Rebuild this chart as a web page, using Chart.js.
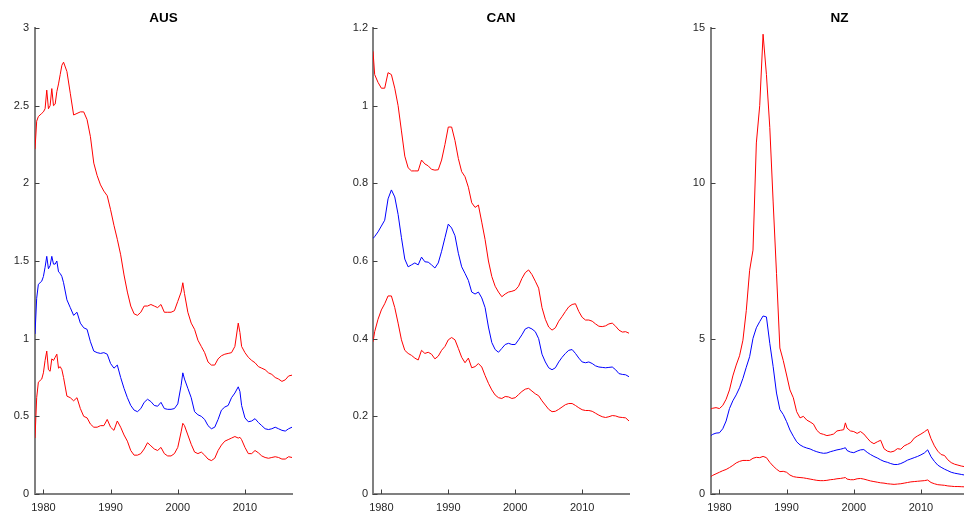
<!DOCTYPE html>
<html>
<head>
<meta charset="utf-8">
<script src="https://cdn.jsdelivr.net/npm/chart.js@4.4.1/dist/chart.umd.min.js"></script>
<style>
  html, body { margin: 0; padding: 0; background: #fff; overflow: hidden; width: 964px; height: 518px; }
  canvas { position: absolute; top: 0; }
</style>
</head>
<body>
<canvas id="aus" width="300" height="518" style="left:0px"></canvas>
<canvas id="can" width="300" height="518" style="left:338px"></canvas>
<canvas id="nz" width="300" height="518" style="left:676px"></canvas>
<script>
// ---------- DATA ----------
const xTicks = [1980, 1990, 2000, 2010];

const ausTitle = 'AUS';
const ausYTicks = [0, 0.5, 1, 1.5, 2, 2.5, 3];
const ausYears = [1978.75,1979,1979.25,1979.5,1979.75,1980,1980.25,1980.5,1980.75,1981,1981.25,1981.5,1981.75,1982,1982.25,1982.5,1982.75,1983,
  1983.5,1984,1984.5,1985,1985.5,1986,1986.5,1987,1987.5,1988,1988.5,1989,1989.5,1990,1990.5,1991,1991.5,1992,1992.5,1993,1993.5,1994,1994.5,1995,1995.5,1996,1996.5,1997,1997.5,1998,1998.5,1999,1999.5,2000,2000.5,
  2000.75,
  2001,2001.5,2002,2002.5,2003,2003.5,2004,2004.5,2005,2005.5,2006,2006.5,2007,2007.5,2008,2008.5,2009,
  2009.25,
  2009.5,2010,2010.5,2011,2011.5,2012,2012.5,2013,2013.5,2014,2014.5,2015,2015.5,2016,2016.5,2017];
const ausUpper = [2.22,2.40,2.43,2.44,2.45,2.46,2.48,2.60,2.48,2.50,2.61,2.50,2.51,2.59,2.64,2.70,2.76,2.78,
  2.72,2.58,2.44,2.45,2.46,2.46,2.41,2.30,2.13,2.05,1.99,1.95,1.92,1.83,1.73,1.64,1.54,1.41,1.30,1.21,1.16,1.15,1.17,1.21,1.21,1.22,1.21,1.20,1.22,1.17,1.17,1.17,1.18,1.24,1.30,
  1.36,
  1.29,1.17,1.10,1.06,0.99,0.95,0.91,0.85,0.83,0.83,0.87,0.89,0.90,0.905,0.91,0.95,1.10,
  1.04,
  0.95,0.91,0.88,0.86,0.845,0.82,0.81,0.80,0.78,0.77,0.75,0.74,0.725,0.735,0.76,0.765];
const ausMedian = [1.03,1.26,1.35,1.36,1.37,1.40,1.46,1.53,1.45,1.47,1.53,1.48,1.48,1.50,1.43,1.42,1.40,1.36,
  1.25,1.20,1.15,1.17,1.10,1.07,1.06,0.98,0.92,0.91,0.905,0.91,0.90,0.84,0.81,0.83,0.75,0.68,0.62,0.57,0.54,0.53,0.55,0.59,0.61,0.595,0.57,0.565,0.59,0.55,0.545,0.545,0.55,0.58,0.70,
  0.78,
  0.74,0.68,0.62,0.53,0.51,0.50,0.48,0.44,0.42,0.43,0.48,0.54,0.56,0.57,0.62,0.65,0.69,
  0.66,
  0.57,0.49,0.465,0.47,0.485,0.46,0.44,0.42,0.415,0.42,0.43,0.42,0.41,0.405,0.42,0.43];
const ausLower = [0.36,0.62,0.72,0.73,0.74,0.78,0.86,0.92,0.80,0.79,0.87,0.86,0.88,0.90,0.81,0.82,0.80,0.75,
  0.63,0.62,0.60,0.62,0.55,0.50,0.49,0.45,0.43,0.43,0.44,0.44,0.48,0.43,0.41,0.47,0.43,0.38,0.34,0.28,0.25,0.25,0.26,0.29,0.33,0.31,0.29,0.28,0.30,0.26,0.245,0.245,0.26,0.30,0.40,
  0.455,
  0.44,0.38,0.32,0.27,0.26,0.27,0.25,0.225,0.215,0.23,0.28,0.315,0.34,0.35,0.36,0.37,0.36,
  0.365,
  0.35,0.30,0.26,0.26,0.28,0.265,0.245,0.235,0.23,0.235,0.24,0.235,0.225,0.225,0.24,0.235];

const canTitle = 'CAN';
const canYTicks = [0, 0.2, 0.4, 0.6, 0.8, 1, 1.2];
const canYears = [1978.75,1979,1979.5,1980,1980.5,1981,1981.5,1982,1982.5,1983,
  1983.5,1984,1984.5,1985,1985.5,1986,1986.5,1987,1987.5,1988,
  1988.5,1989,1989.5,1990,1990.5,1991,1991.5,1992,1992.5,1993,
  1993.5,1994,1994.5,1995,1995.5,1996,1996.5,1997,1997.5,1998,
  1998.5,1999,1999.5,2000,2000.5,2001,2001.5,2002,2002.5,2003,
  2003.5,2004,2004.5,2005,2005.5,2006,2006.5,2007,2007.5,2008,
  2008.5,2009,2009.5,2010,2010.5,2011,2011.5,2012,2012.5,2013,
  2013.5,2014,2014.5,2015,2015.5,2016,2016.5,2017];
const canUpper = [1.14,1.08,1.06,1.045,1.045,1.085,1.08,1.045,1.00,0.935,
  0.87,0.84,0.832,0.832,0.832,0.86,0.85,0.845,0.836,0.834,
  0.835,0.86,0.90,0.945,0.945,0.91,0.864,0.83,0.817,0.79,
  0.75,0.738,0.744,0.70,0.655,0.60,0.56,0.535,0.52,0.508,
  0.515,0.52,0.522,0.525,0.535,0.555,0.57,0.577,0.565,0.548,
  0.53,0.48,0.45,0.43,0.422,0.428,0.445,0.457,0.47,0.482,
  0.488,0.49,0.47,0.455,0.448,0.448,0.445,0.438,0.432,0.431,
  0.433,0.438,0.44,0.432,0.422,0.417,0.418,0.414];
const canMedian = [0.658,0.663,0.675,0.69,0.705,0.76,0.783,0.765,0.72,0.66,
  0.605,0.585,0.59,0.595,0.59,0.61,0.598,0.597,0.59,0.582,
  0.595,0.625,0.66,0.695,0.685,0.665,0.62,0.585,0.568,0.55,
  0.52,0.515,0.52,0.505,0.48,0.43,0.39,0.372,0.365,0.375,
  0.385,0.388,0.385,0.385,0.397,0.41,0.425,0.429,0.425,0.418,
  0.40,0.36,0.34,0.325,0.32,0.325,0.34,0.352,0.362,0.37,
  0.372,0.362,0.35,0.34,0.338,0.34,0.336,0.33,0.327,0.326,
  0.325,0.326,0.327,0.32,0.31,0.308,0.307,0.302];
const canLower = [0.392,0.418,0.45,0.474,0.49,0.51,0.51,0.48,0.44,0.397,
  0.37,0.362,0.357,0.35,0.345,0.37,0.362,0.365,0.36,0.348,
  0.355,0.37,0.38,0.397,0.403,0.397,0.375,0.352,0.338,0.35,
  0.325,0.328,0.336,0.327,0.305,0.285,0.268,0.255,0.248,0.246,
  0.251,0.25,0.246,0.248,0.256,0.264,0.27,0.272,0.265,0.258,
  0.253,0.24,0.229,0.218,0.212,0.213,0.218,0.224,0.23,0.233,
  0.233,0.228,0.222,0.217,0.215,0.215,0.213,0.208,0.203,0.199,
  0.197,0.199,0.202,0.201,0.198,0.197,0.196,0.188];

const nzTitle = 'NZ';
const nzYTicks = [0, 5, 10, 15];
const nzYears = [1978.75,
  1979,1979.5,1980,1980.5,1981,1981.5,1982,1982.5,1983,1983.5,
  1984,1984.5,1985,1985.5,1986,1986.5,1987,1987.5,1988,1988.5,
  1989,1989.5,1990,1990.5,1991,1991.5,1992,1992.5,1993,1993.5,
  1994,1994.5,1995,1995.5,1996,1996.5,1997,1997.5,1998,1998.5,
  1998.75,
  1999,1999.5,2000,2000.5,2001,2001.5,2002,2002.5,2003,2003.5,
  2004,2004.5,2005,2005.5,2006,2006.5,2007,2007.5,2008,2008.5,
  2009,2009.5,2010,2010.5,2011,2011.5,2012,2012.5,2013,2013.5,
  2014,2014.5,2015,2015.5,2016,2016.5,2017];
const nzUpper = [2.74,
  2.76,2.78,2.75,2.85,3.05,3.35,3.80,4.15,4.45,4.95,
  5.9,7.2,7.85,11.3,12.5,14.8,13.5,11.8,9.4,7.1,
  4.7,4.3,3.83,3.35,3.1,2.65,2.45,2.5,2.38,2.32,
  2.25,2.05,1.95,1.92,1.88,1.90,1.93,2.03,2.05,2.07,
  2.29,
  2.12,2.03,2.01,1.95,2.01,1.93,1.80,1.68,1.62,1.68,
  1.73,1.46,1.38,1.35,1.38,1.46,1.44,1.55,1.60,1.66,
  1.80,1.87,1.93,2.0,2.08,1.78,1.55,1.38,1.27,1.24,
  1.10,1.01,0.96,0.93,0.90,0.88,0.86];
const nzMedian = [1.88,
  1.92,1.96,1.97,2.10,2.35,2.75,3.00,3.19,3.42,3.72,
  4.08,4.42,5.01,5.35,5.55,5.73,5.70,4.85,4.1,3.25,
  2.72,2.56,2.33,2.06,1.86,1.68,1.58,1.52,1.48,1.45,
  1.40,1.36,1.33,1.31,1.32,1.36,1.39,1.42,1.44,1.47,
  1.49,
  1.40,1.35,1.33,1.38,1.42,1.43,1.34,1.27,1.21,1.16,
  1.10,1.05,1.02,0.98,0.95,0.95,0.98,1.03,1.09,1.13,
  1.17,1.21,1.26,1.32,1.42,1.20,1.05,0.93,0.86,0.80,
  0.75,0.70,0.67,0.65,0.63,0.61,0.60];
const nzLower = [0.56,
  0.60,0.65,0.70,0.75,0.79,0.85,0.92,1.00,1.05,1.08,
  1.08,1.08,1.15,1.18,1.17,1.21,1.17,1.02,0.90,0.80,
  0.72,0.73,0.70,0.61,0.56,0.54,0.53,0.52,0.50,0.48,
  0.46,0.44,0.43,0.43,0.44,0.46,0.47,0.49,0.50,0.52,
  0.53,
  0.48,0.46,0.46,0.49,0.50,0.48,0.45,0.42,0.40,0.38,
  0.36,0.35,0.33,0.32,0.31,0.32,0.33,0.35,0.37,0.39,
  0.40,0.41,0.42,0.43,0.45,0.37,0.33,0.30,0.29,0.28,
  0.26,0.25,0.24,0.24,0.235,0.23,0.23];

// ---------- STYLE ----------
const FONT = '"Liberation Sans", Arial, Helvetica, sans-serif';
const RED = '#ff0000';
const BLUE = '#0000ff';
const AXIS_COLOR = '#808080';
const TICK_TEXT = '#262626';

const inwardTicks = {
  id: 'inwardTicks',
  afterDraw(chart) {
    const { ctx, chartArea: a, scales } = chart;
    const len = 4.5;
    ctx.save();
    ctx.strokeStyle = '#404040';
    ctx.lineWidth = 1;
    ctx.beginPath();
    scales.y.ticks.forEach(t => {
      const py = Math.round(scales.y.getPixelForValue(t.value)) + 0.5;
      ctx.moveTo(a.left, py);
      ctx.lineTo(a.left + len, py);
    });
    scales.x.ticks.forEach(t => {
      const px = Math.round(scales.x.getPixelForValue(t.value)) + 0.5;
      ctx.moveTo(px, a.bottom);
      ctx.lineTo(px, a.bottom - len);
    });
    ctx.stroke();
    ctx.restore();
  }
};

function series(years, vals, color) {
  return {
    data: years.map((x, i) => ({ x: x, y: vals[i] })),
    borderColor: color,
    borderWidth: 1,
    pointRadius: 0,
    tension: 0,
    fill: false
  };
}

function fmt(v) { return String(+Number(v).toFixed(2)); }

function makePanel(id, title, years, upper, median, lower, yTicks, padRight, yPad) {
  const yMax = yTicks[yTicks.length - 1];
  return new Chart(document.getElementById(id), {
    type: 'line',
    data: {
      datasets: [
        series(years, upper, RED),
        series(years, median, BLUE),
        series(years, lower, RED)
      ]
    },
    options: {
      responsive: false,
      animation: false,
      devicePixelRatio: 1,
      layout: { padding: { left: 0, right: padRight, top: 0, bottom: 0 } },
      plugins: {
        legend: { display: false },
        tooltip: { enabled: false },
        title: {
          display: true,
          text: title,
          fullSize: false,
          color: '#000',
          font: { family: FONT, size: 13.5, weight: 'bold', lineHeight: 1.2 },
          padding: { top: 10, bottom: 1.8 }
        }
      },
      scales: {
        x: {
          type: 'linear',
          min: 1978.75,
          max: 2017,
          afterBuildTicks: s => { s.ticks = xTicks.map(v => ({ value: v })); },
          afterFit: s => { s.height = 24; },
          grid: { display: false, drawTicks: false },
          border: { display: true, color: AXIS_COLOR, width: 2 },
          ticks: {
            color: TICK_TEXT,
            font: { family: FONT, size: 11 },
            padding: 7,
            maxRotation: 0,
            autoSkip: false,
            callback: v => String(v)
          }
        },
        y: {
          type: 'linear',
          min: 0,
          max: yMax,
          afterBuildTicks: s => { s.ticks = yTicks.map(v => ({ value: v })); },
          afterFit: s => { s.width = 35; },
          grid: { display: false, drawTicks: false },
          border: { display: true, color: AXIS_COLOR, width: 2 },
          ticks: {
            color: TICK_TEXT,
            font: { family: FONT, size: 11 },
            padding: yPad,
            autoSkip: false,
            callback: v => fmt(v)
          }
        }
      }
    },
    plugins: [inwardTicks]
  });
}

makePanel('aus', ausTitle, ausYears, ausUpper, ausMedian, ausLower, ausYTicks, 8, 6);
makePanel('can', canTitle, canYears, canUpper, canMedian, canLower, canYTicks, 9, 5);
makePanel('nz', nzTitle, nzYears, nzUpper, nzMedian, nzLower, nzYTicks, 8, 6);
</script>
</body>
</html>
